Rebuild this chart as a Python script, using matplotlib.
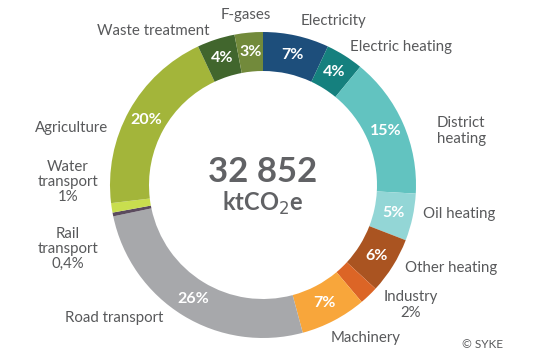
import numpy as np
import matplotlib
matplotlib.use("Agg")
import matplotlib.pyplot as plt

plt.rcParams['font.family'] = ['Lato', 'DejaVu Sans']

# sectors clockwise from 12 o'clock
sectors = ["Electricity", "Electric heating", "District heating", "Oil heating",
           "Other heating", "Industry", "Machinery", "Road transport",
           "Rail transport", "Water transport", "Agriculture",
           "Waste treatment", "F-gases"]
shares = [7, 4, 15, 5, 6, 2, 7, 26, 0.4, 1, 20, 4, 3]
inner_labels = ["7%", "4%", "15%", "5%", "6%", "", "7%", "26%", "", "", "20%", "4%", "3%"]
colors = ["#1d4e7b", "#15807e", "#62c3c0", "#93d6d6", "#aa5421", "#dc6526",
          "#f8a63b", "#a7a8ab", "#5b4b5e", "#c9de4e", "#a3b53a", "#41662d", "#728a3b"]

total = "32 852"
unit = "ktCO$_2$e"

# outer labels: text, pixel position (x, y from top), alignment
outer_text = [
    ("Electricity", 333, 21, "center"),
    ("Electric heating", 401, 47, "center"),
    ("District\nheating", 437, 131, "left"),
    ("Oil heating", 423, 214, "left"),
    ("Other heating", 405, 268, "left"),
    ("Industry\n2%", 411, 305, "center"),
    ("Machinery", 366, 338, "center"),
    ("Road transport", 114, 318, "center"),
    ("Rail\ntransport\n0,4%", 68, 249, "center"),
    ("Water\ntransport\n1%", 68, 182, "center"),
    ("Agriculture", 72, 128, "center"),
    ("Waste treatment", 153, 31, "center"),
    ("F-gases", 246, 15, "center"),
]

W, H = 556, 361
cx, cy = 263, H - 185
r_out, r_in = 153, 114
grey = "#58595b"

fig = plt.figure(figsize=(W / 100, H / 100), dpi=100)
ax = fig.add_axes([0, 0, 1, 1])

wedges, _ = ax.pie(shares, colors=colors, startangle=90, counterclock=False,
                   radius=r_out, center=(cx, cy),
                   wedgeprops=dict(width=r_out - r_in, linewidth=0))

r_mid = (r_out + r_in) / 2
for w, lab in zip(wedges, inner_labels):
    if not lab:
        continue
    ang = np.deg2rad((w.theta1 + w.theta2) / 2)
    ax.text(cx + r_mid * np.cos(ang), cy + r_mid * np.sin(ang), lab,
            ha="center", va="center", color="white", fontsize=11.5, fontweight="bold")

for txt, px, py, ha in outer_text:
    ax.text(px, H - py, txt, ha=ha, va="center", color=grey, fontsize=10.8,
            linespacing=1.1, multialignment="center" if ha == "center" else "left")

ax.text(cx, H - 172, total, ha="center", va="center", color="#616265",
        fontsize=25, fontweight="bold")
ax.text(cx, H - 203, unit, ha="center", va="center", color="#616265",
        fontsize=17, fontweight="bold")
ax.text(482, H - 345, "© SYKE", ha="center", va="center", color=grey, fontsize=8.5)

ax.set_xlim(0, W)
ax.set_ylim(0, H)
ax.set_aspect("auto")
ax.axis("off")

plt.savefig("out.png", dpi=100)
